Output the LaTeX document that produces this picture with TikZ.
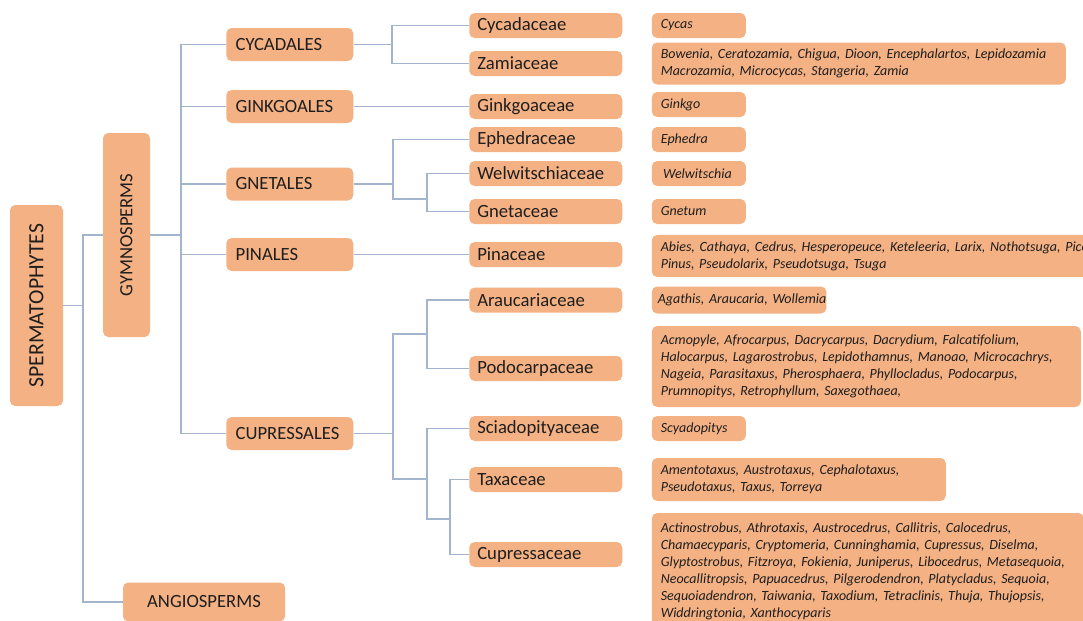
\documentclass[tikz,border=0pt]{standalone}
\usepackage{fontspec}
\setmainfont{Carlito}
\usetikzlibrary{positioning}
\definecolor{boxfill}{HTML}{F4B183}
\definecolor{linkcol}{HTML}{A3B4CE}
\definecolor{inkcol}{HTML}{1E1E1E}
\tikzset{
  taxbox/.style={
    rectangle, rounded corners=4pt, fill=boxfill, text=inkcol,
    inner ysep=0pt
  },
  rootbox/.style 2 args={
    taxbox, rotate=90, minimum width=#1, minimum height=#2,
    font=\fontsize{14}{16}\selectfont
  },
  orderbox/.style={
    taxbox, anchor=west, inner xsep=7pt, text width=81.25pt,
    minimum height=24.75pt, align=left, font=\fontsize{14}{16}\selectfont
  },
  fambox/.style={
    taxbox, anchor=west, inner xsep=6pt, text width=102.75pt,
    minimum height=18.75pt, align=left, font=\fontsize{14}{16}\selectfont
  },
  genbox/.style={
    taxbox, inner xsep=6.75pt, text width=#1, minimum height=18.75pt,
    align=left, font=\fontsize{10.5}{12.75}\selectfont\itshape
  },
  link/.style={draw=linkcol, line width=0.8pt}
}
\begin{document}
\begin{tikzpicture}[x=0.75pt, y=-0.75pt, node distance=0pt and 21.75pt]
  \useasboundingbox (0,0) rectangle (1083,621);
  \clip (0,0) rectangle (1083,621);

  \node[rootbox={150.75pt}{39.75pt}, font=\fontsize{16.3}{18}\selectfont] (sperm)
    at (36.5,305.5) {SPERMATOPHYTES};
  \node[rootbox={153pt}{35.25pt}] (gymno) at (126.5,235) {GYMNOSPERMS};
  \node[taxbox, minimum width=121.5pt, minimum height=29.25pt,
    font=\fontsize{14}{16}\selectfont] (angio) at (204,602) {ANGIOSPERMS};

  \node[orderbox] (cycad) at (226,44.5) {CYCADALES};
  \node[orderbox] (ginkg) at (226,106.5) {GINKGOALES};
  \node[orderbox] (gneta) at (226,184) {GNETALES};
  \node[orderbox] (pinal) at (226,254.5) {PINALES};
  \node[orderbox] (cupre) at (226,433.5) {CUPRESSALES};

  \node[fambox] (cycf) at (469,25.5) {Cycadaceae};
  \node[fambox] (zamf) at (469,63.5) {Zamiaceae};
  \node[fambox] (ginf) at (469,106.5) {Ginkgoaceae};
  \node[fambox] (ephf) at (469,139.5) {Ephedraceae};
  \node[fambox] (welf) at (469,173.5) {Welwitschiaceae};
  \node[fambox] (gnef) at (469,211.5) {Gnetaceae};
  \node[fambox] (pinf) at (469,254.5) {Pinaceae};
  \node[fambox] (arauf) at (469,300) {Araucariaceae};
  \node[fambox] (podf) at (469,368.5) {Podocarpaceae};
  \node[fambox] (sciaf) at (469,428.5) {Sciadopityaceae};
  \node[fambox] (taxf) at (469,479.5) {Taxaceae};
  \node[fambox] (cupf) at (469,554.5) {Cupressaceae};

  \node[genbox=57pt, right=of cycf] (cycg) {Cycas};
  \node[genbox=297pt, minimum height=31.5pt, right=of zamf] (zamg)
    {Bowenia, Ceratozamia, Chigua, Dioon, Encephalartos, Lepidozamia\\
     Macrozamia, Microcycas, Stangeria, Zamia};
  \node[genbox=57pt, right=of ginf, yshift=1.5pt] (ging) {Ginkgo};
  \node[genbox=57pt, right=of ephf] (ephg) {Ephedra};
  \node[genbox=57pt, right=of welf] (welg) {\,Welwitschia};
  \node[genbox=57pt, right=of gnef] (gneg) {Gnetum};
  \node[genbox=345pt, minimum height=31.5pt, right=of pinf, yshift=-1.1pt] (ping)
    {Abies, Cathaya, Cedrus, Hesperopeuce, Keteleeria, Larix, Nothotsuga, Picea,\\
     Pinus, Pseudolarix, Pseudotsuga, Tsuga};
  \node[genbox=122pt, inner xsep=4.5pt, minimum height=20.25pt, right=of arauf] (araug)
    {\mbox{Agathis, Araucaria, Wollemia}};
  \node[genbox=308.25pt, minimum height=60.75pt, right=of podf, yshift=1.5pt] (podg)
    {Acmopyle, Afrocarpus, Dacrycarpus, Dacrydium, Falcatifolium,\\
     Halocarpus, Lagarostrobus, Lepidothamnus, Manoao, Microcachrys,\\
     Nageia, Parasitaxus, Pherosphaera, Phyllocladus, Podocarpus,\\
     Prumnopitys, Retrophyllum, Saxegothaea,};
  \node[genbox=57pt, right=of sciaf] (sciag) {Scyadopitys};
  \node[genbox=207pt, minimum height=32.25pt, right=of taxf] (taxg)
    {Amentotaxus, Austrotaxus, Cephalotaxus,\\
     Pseudotaxus, Taxus, Torreya};
  \node[genbox=310.5pt, minimum height=87.75pt, right=of cupf, yshift=-12.75pt] (cupg)
    {Actinostrobus, Athrotaxis, Austrocedrus, Callitris, Calocedrus,\\
     Chamaecyparis, Cryptomeria, Cunninghamia, Cupressus, Diselma,\\
     Glyptostrobus, Fitzroya, Fokienia, Juniperus, Libocedrus, Metasequoia,\\
     Neocallitropsis, Papuacedrus, Pilgerodendron, Platycladus, Sequoia,\\
     Sequoiadendron, Taiwania, Taxodium, Tetraclinis, Thuja, Thujopsis,\\
     Widdringtonia, Xanthocyparis};

  \coordinate (j0) at (83,305.5);
  \coordinate (j1) at (181,235);
  \coordinate (j2) at (392,44.5);
  \coordinate (j3) at (393,184);
  \coordinate (j3b) at (427,199);
  \coordinate (j4) at (393,433.5);
  \coordinate (j4a) at (427,334);
  \coordinate (j4b) at (427,479);
  \coordinate (j4c) at (450,519);

  \draw[link] (sperm.south) -- (j0);
  \draw[link] (j0) |- (gymno.north);
  \draw[link] (j0) |- (angio.west);
  \draw[link] (gymno.south) -- (j1);
  \draw[link] (j1) |- (cycad.west);
  \draw[link] (j1) |- (ginkg.west);
  \draw[link] (j1) |- (gneta.west);
  \draw[link] (j1) |- (pinal.west);
  \draw[link] (j1) |- (cupre.west);
  \draw[link] (cycad.east) -- (j2);
  \draw[link] (j2) |- (cycf.west);
  \draw[link] (j2) |- (zamf.west);
  \draw[link] (ginkg.east) -- (ginf.west);
  \draw[link] (gneta.east) -- (j3);
  \draw[link] (j3) |- (ephf.west);
  \draw[link] (j3) |- (j3b);
  \draw[link] (j3b) |- (welf.west);
  \draw[link] (j3b) |- (gnef.west);
  \draw[link] (pinal.east) -- (pinf.west);
  \draw[link] (cupre.east) -- (j4);
  \draw[link] (j4) |- (j4a);
  \draw[link] (j4) |- (j4b);
  \draw[link] (j4a) |- (arauf.west);
  \draw[link] (j4a) |- (podf.west);
  \draw[link] (j4b) |- (sciaf.west);
  \draw[link] (j4b) |- (j4c);
  \draw[link] (j4c) |- (taxf.west);
  \draw[link] (j4c) |- (cupf.west);
\end{tikzpicture}
\end{document}
